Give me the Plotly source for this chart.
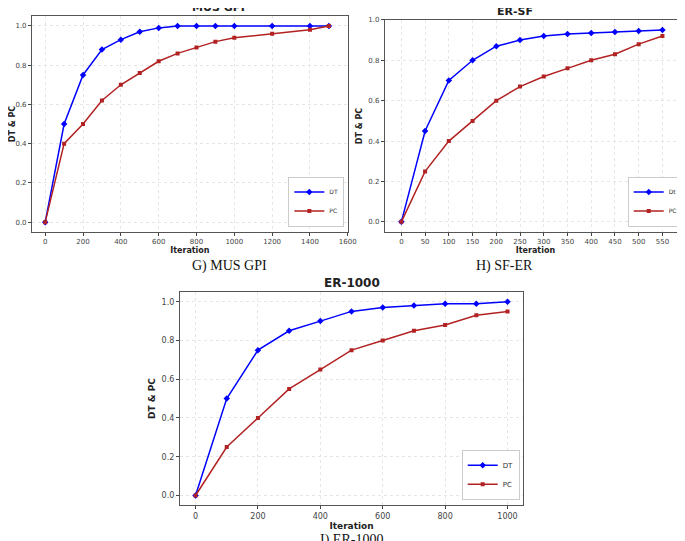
import plotly.graph_objects as go

# MUS GPI
g_iter = [0, 100, 200, 300, 400, 500, 600, 700, 800, 900, 1000, 1200, 1400, 1500]
g_dt = [0.0, 0.5, 0.75, 0.88, 0.93, 0.97, 0.99, 1.0, 1.0, 1.0, 1.0, 1.0, 1.0, 1.0]
g_pc = [0.0, 0.4, 0.5, 0.62, 0.7, 0.76, 0.82, 0.86, 0.89, 0.92, 0.94, 0.96, 0.98, 1.0]

# ER-SF
h_iter = [0, 50, 100, 150, 200, 250, 300, 350, 400, 450, 500, 550]
h_dt = [0.0, 0.45, 0.7, 0.8, 0.87, 0.9, 0.92, 0.93, 0.935, 0.94, 0.945, 0.95]
h_pc = [0.0, 0.25, 0.4, 0.5, 0.6, 0.67, 0.72, 0.76, 0.8, 0.83, 0.88, 0.92]

# ER-1000
i_iter = [0, 100, 200, 300, 400, 500, 600, 700, 800, 900, 1000]
i_dt = [0.0, 0.5, 0.75, 0.85, 0.9, 0.95, 0.97, 0.98, 0.99, 0.99, 1.0]
i_pc = [0.0, 0.25, 0.4, 0.55, 0.65, 0.75, 0.8, 0.85, 0.88, 0.93, 0.95]

BLUE = "#0000ff"
RED = "#b22222"

panels = [
    # x, dt, pc, dt name, suffix, xdom, ydom, xrange, yrange, dtick, title, caption, caption y
    (g_iter, g_dt, g_pc, "DT", "", [0.035, 0.496], [0.586, 0.985], [-70, 1600], [-0.05, 1.05], 200, "MUS GPI", "G) MUS GPI", 0.523),
    (h_iter, h_dt, h_pc, "Dt", "2", [0.55, 0.99], [0.586, 0.978], [-35, 600], [-0.05, 1.0], 50, "ER-SF", "H) SF-ER", 0.523),
    (i_iter, i_dt, i_pc, "DT", "3", [0.251, 0.752], [0.081, 0.475], [-50, 1050], [-0.05, 1.05], 200, "ER-1000", "I) ER-1000", 0.016),
]

fig = go.Figure()
layout = dict(
    width=685, height=541, margin=dict(l=0, r=0, t=0, b=0, autoexpand=False),
    plot_bgcolor="white", paper_bgcolor="white", showlegend=True,
    font=dict(family="DejaVu Sans", color="#333"),
)
annotations = []
for x, dt, pc, dtname, s, xd, yd, xr, yr, dtick, title, caption, cy in panels:
    big = s == "3"
    tick = 8 if big else 7
    fig.add_trace(go.Scatter(x=x, y=dt, name=dtname, mode="lines+markers",
                             line=dict(color=BLUE, width=1.5),
                             marker=dict(symbol="diamond", size=5, color=BLUE),
                             xaxis="x" + s, yaxis="y" + s, legend="legend" + s))
    fig.add_trace(go.Scatter(x=x, y=pc, name="PC", mode="lines+markers",
                             line=dict(color=RED, width=1.5),
                             marker=dict(symbol="square", size=4, color=RED),
                             xaxis="x" + s, yaxis="y" + s, legend="legend" + s))
    ax = dict(showline=True, mirror=True, linecolor="#555", linewidth=1,
              gridcolor="#e6e6e6", griddash="dot", zeroline=False, automargin=False,
              ticks="outside", ticklen=3, tickfont=dict(size=tick, color="#444"))
    layout["xaxis" + s] = dict(ax, domain=xd, range=xr, dtick=dtick, tick0=0,
                               anchor="y" + s,
                               title=dict(text="<b>Iteration</b>", font=dict(size=tick + 1, color="#222"), standoff=2))
    layout["yaxis" + s] = dict(ax, domain=yd, range=yr, dtick=0.2, tickformat=".1f",
                               anchor="x" + s,
                               title=dict(text="<b>DT & PC</b>", font=dict(size=tick + 1, color="#222"), standoff=4))
    layout["legend" + s] = dict(x=xd[1] - 0.005, y=yd[0] + 0.01, xanchor="right", yanchor="bottom",
                                bgcolor="white", bordercolor="#ccc", borderwidth=1,
                                font=dict(size=tick - 1), tracegroupgap=0,
                                itemwidth=30)
    annotations.append(dict(text="<b>" + title + "</b>", x=(xd[0] + xd[1]) / 2, y=yd[1],
                            xref="paper", yref="paper", yanchor="bottom", showarrow=False,
                            font=dict(size=12 if big else 11, color="#222")))
    annotations.append(dict(text=caption, x=(xd[0] + xd[1]) / 2, y=cy,
                            xref="paper", yref="paper", yanchor="middle", showarrow=False,
                            font=dict(family="Liberation Serif", size=14, color="#111")))

layout["annotations"] = annotations
fig.update_layout(**layout)
fig.write_html("out.html")
